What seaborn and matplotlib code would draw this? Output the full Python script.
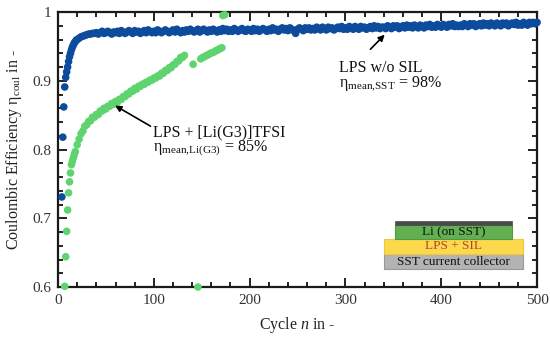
import numpy as np
import pandas as pd
import seaborn as sns
import matplotlib
matplotlib.use("Agg")
import matplotlib.pyplot as plt
from matplotlib.patches import Rectangle, FancyArrowPatch
from matplotlib.ticker import MultipleLocator, FuncFormatter

# ---------------- data ----------------
# LPS w/o SIL (blue): individual early cycles, then every 2nd cycle
blue_early_cycles = [4, 5, 6, 7, 8, 9, 10, 11, 12, 13, 14, 15, 16, 17, 18, 19]
blue_early_values = [0.731, 0.818, 0.862, 0.891, 0.905, 0.913, 0.920, 0.928,
                     0.935, 0.940, 0.945, 0.949, 0.952, 0.955, 0.957, 0.959]
blue_cycles = list(range(20, 501, 2))
blue_values = [
    .960, .962, .964, .965, .966, .967, .968, .968, .969, .969, .970, .968, .970, .972, .969, .970, .972, .970, .968, .971,
    .970, .972, .969, .973, .971, .969, .971, .973, .971, .969, .973, .971, .972, .969, .971, .973, .970, .974, .972, .970,
    .972, .970, .974, .972, .970, .972, .974, .972, .970, .972, .974, .971, .975, .972, .970, .973, .971, .974, .972, .975,
    .973, .971, .973, .975, .971, .973, .975, .973, .971, .974, .972, .975, .973, .971, .974, .972, .976, .973, .975, .972,
    .974, .972, .976, .974, .972, .974, .976, .973, .972, .975, .974, .972, .976, .973, .975, .972, .974, .976, .974, .972,
    .975, .973, .977, .974, .975, .972, .975, .977, .974, .976, .973, .977, .975, .973, .969, .975, .977, .975, .973, .977,
    .975, .977, .974, .976, .974, .978, .976, .974, .978, .976, .974, .978, .976, .977, .974, .976, .978, .976, .979, .975,
    .977, .975, .979, .977, .975, .979, .977, .975, .979, .977, .978, .975, .977, .979, .976, .980, .977, .979, .976, .978,
    .978, .976, .980, .978, .976, .980, .978, .980, .976, .978, .980, .977, .981, .978, .980, .977, .981, .979, .977, .981,
    .979, .977, .981, .979, .982, .978, .980, .978, .982, .980, .978, .982, .980, .978, .982, .980, .983, .979, .981, .979,
    .981, .979, .983, .981, .979, .983, .981, .983, .979, .981, .983, .980, .984, .981, .983, .980, .984, .982, .980, .984,
    .982, .980, .984, .982, .984, .980, .982, .984, .982, .985, .981, .983, .981, .985, .983, .981, .985, .983, .985, .983,
    .985,
]

# LPS + [Li(G3)]TFSI (green)
green_early_cycles = [7, 8, 9, 10, 11, 12, 13, 14, 15, 16, 17]
green_early_values = [0.601, 0.644, 0.681, 0.712, 0.737, 0.753, 0.766, 0.778,
                      0.783, 0.788, 0.793]
green_cycles = list(range(18, 133, 2))
green_values = [
    .797, .807, .815, .823, .827, .834, .836, .841, .842, .847,
    .847, .851, .851, .856, .856, .860, .859, .863, .863, .867,
    .866, .870, .869, .873, .873, .877, .877, .881, .881, .885,
    .885, .889, .888, .892, .892, .895, .895, .898, .898, .901,
    .901, .904, .904, .907, .907, .911, .911, .915, .915, .919,
    .919, .923, .924, .928, .929, .934, .934, .937,
]
green_late_cycles = [141, 146, 149, 151, 153, 155, 157, 159, 161, 163, 165, 167, 169, 171, 172, 174]
green_late_values = [0.924, 0.600, 0.932, 0.934, 0.935, 0.937, 0.938, 0.940,
                     0.941, 0.942, 0.944, 0.945, 0.947, 0.948, 0.995, 0.996]

series_names = ["LPS w/o SIL", "LPS + [Li(G3)]TFSI"]
series_colors = ["#0d4c9c", "#5fd46e"]

# ---------------- build table ----------------
bx = blue_early_cycles + blue_cycles
by = blue_early_values + blue_values
gx = green_early_cycles + green_cycles + green_late_cycles
gy = green_early_values + green_values + green_late_values
df = pd.DataFrame({
    "cycle": bx + gx,
    "eff": by + gy,
    "series": [series_names[0]] * len(bx) + [series_names[1]] * len(gx),
})

sns.set_theme(style="ticks")
plt.rcParams["font.family"] = ["Liberation Serif", "DejaVu Serif"]
plt.rcParams["mathtext.fontset"] = "custom"
plt.rcParams["mathtext.rm"] = "Liberation Serif"
plt.rcParams["mathtext.it"] = "Liberation Serif:italic"
plt.rcParams["font.size"] = 11

fig = plt.figure(figsize=(5.5, 3.39), dpi=100)
ax = fig.add_axes([0.1055, 0.1534, 0.871, 0.811])

sns.scatterplot(data=df, x="cycle", y="eff", hue="series",
                palette=dict(zip(series_names, series_colors)),
                s=30, linewidth=0, legend=False, ax=ax, clip_on=False, zorder=3)

ax.set_xlim(0, 500)
ax.set_ylim(0.6, 1.0)
ax.xaxis.set_major_locator(MultipleLocator(100))
ax.xaxis.set_minor_locator(MultipleLocator(20))
ax.yaxis.set_major_locator(MultipleLocator(0.1))
ax.yaxis.set_minor_locator(MultipleLocator(0.02))
ax.yaxis.set_major_formatter(FuncFormatter(lambda v, p: f"{v:g}"))
ax.tick_params(which="both", direction="in", top=True, right=True,
               width=1.4, colors="#222222", labelsize=11, labelcolor="#333333")
ax.tick_params(which="major", length=6.5, pad=5)
ax.tick_params(which="minor", length=3.5)
for sp in ax.spines.values():
    sp.set_linewidth(1.6)
    sp.set_color("#1a1a1a")
    sp.set_visible(True)

ax.set_xlabel("Cycle $n$ in -", fontsize=11.5, color="#222222", labelpad=6)
ax.set_ylabel("Coulombic Efficiency η$_{\\mathrm{coul}}$ in -", fontsize=11.5,
              color="#222222", labelpad=6)

# annotations
ax.add_patch(FancyArrowPatch((324, 0.943), (343, 0.970), arrowstyle="-|>",
                             color="black", lw=1.2, mutation_scale=9, zorder=5))
ax.text(293, 0.919, "LPS w/o SIL", fontsize=11.5, va="center", ha="left", color="#111111")
ax.text(293, 0.896, "η$_{\\mathrm{mean{,}SST}}$ = 98%", fontsize=11.5, va="center", ha="left",
        color="#111111")

ax.add_patch(FancyArrowPatch((99, 0.832), (57, 0.866), arrowstyle="-|>",
                             color="black", lw=1.2, mutation_scale=9, zorder=5))
ax.text(99, 0.825, "LPS + [Li(G3)]TFSI", fontsize=11.5, va="center", ha="left", color="#111111")
ax.text(99, 0.801, "η$_{\\mathrm{mean{,}Li(G3)}}$ = 85%", fontsize=11.5, va="center", ha="left",
        color="#111111")

# cell-stack inset
ax.add_patch(Rectangle((340, 0.626), 145, 0.022, facecolor="#b3b3b3", edgecolor="#999999", lw=0.8, zorder=4))
ax.add_patch(Rectangle((340, 0.648), 145, 0.022, facecolor="#fcd94c", edgecolor="#f0c83a", lw=0.8, zorder=4))
ax.add_patch(Rectangle((352, 0.670), 122, 0.020, facecolor="#63b052", edgecolor="#4f9a40", lw=0.8, zorder=4))
ax.add_patch(Rectangle((352, 0.690), 122, 0.006, facecolor="#4a4a4a", edgecolor="#4a4a4a", lw=0.5, zorder=4))
ax.text(413, 0.680, "Li (on SST)", fontsize=9.5, ha="center", va="center", color="#111111", zorder=6)
ax.text(412.5, 0.659, "LPS + SIL", fontsize=9.5, ha="center", va="center", color="#b5402a", zorder=6)
ax.text(412.5, 0.637, "SST current collector", fontsize=9.5, ha="center", va="center", color="#111111", zorder=6)

fig.savefig("out.png", dpi=100)
